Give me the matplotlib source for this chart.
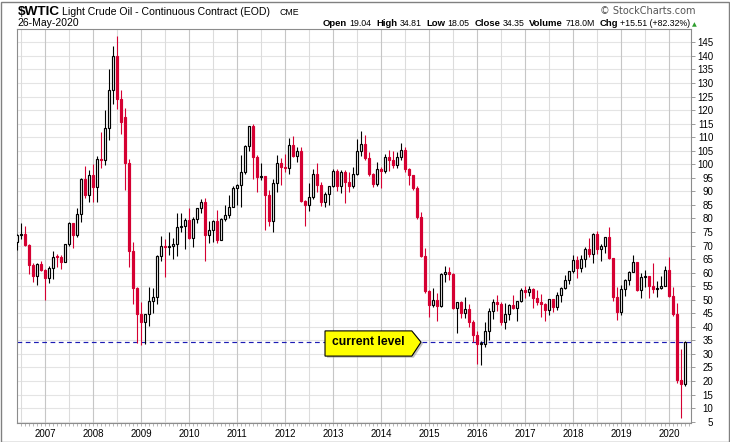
import matplotlib
matplotlib.use('Agg')
import matplotlib.pyplot as plt
import numpy as np
import pandas as pd
from matplotlib.patches import Rectangle, Polygon

plt.rcParams['font.family'] = ['Liberation Sans', 'DejaVu Sans']

# monthly candles, Jun 2006 .. May 2020
months = pd.period_range('2006-06', '2020-05', freq='M')

opens = [
    71.29, 73.93, 74.40, 70.26, 62.91, 58.73, 63.13,                                  # 2006
    61.05, 58.14, 61.79, 65.87, 65.71, 64.01, 70.68, 78.21, 74.04, 81.66, 94.53, 88.71,  # 2007
    95.98, 91.75, 101.84, 101.58, 113.46, 127.35, 140.00, 124.08, 117.50, 100.64, 67.81, 54.43,  # 2008
    44.60, 41.68, 44.76, 49.66, 51.12, 66.31, 69.89, 69.45, 69.96, 70.61, 77.00, 77.28,  # 2009
    79.36, 72.89, 79.66, 83.76, 86.15, 73.97, 75.63, 78.95, 71.92, 79.97, 81.43, 84.11,  # 2010
    91.38, 92.19, 96.97, 106.72, 113.93, 102.70, 95.42, 95.70, 88.81, 79.20, 93.19, 100.36,  # 2011
    98.83, 98.48, 107.07, 103.02, 104.87, 86.53, 84.96, 88.06, 96.47, 92.19, 86.24, 88.91,  # 2012
    91.82, 97.49, 92.05, 97.23, 93.46, 91.97, 96.56, 105.03, 107.65, 102.33, 96.38, 92.72,  # 2013
    98.42, 97.49, 102.59, 101.58, 99.74, 102.71, 105.37, 98.17, 95.96, 91.16, 80.54, 66.15,  # 2014
    53.27, 48.24, 49.76, 47.60, 59.63, 60.30, 59.47, 47.12, 49.20, 45.09, 46.59, 41.65,  # 2015
    37.04, 33.62, 33.75, 38.34, 45.92, 49.10, 48.33, 41.60, 44.70, 48.24, 46.86, 49.44,  # 2016
    53.72, 52.81, 54.01, 50.60, 49.33, 48.32, 46.04, 50.17, 47.23, 51.67, 54.38, 57.40,  # 2017
    60.42, 64.73, 61.64, 64.94, 68.57, 67.04, 74.15, 68.76, 69.80, 73.25, 65.31, 50.93,  # 2018
    45.41, 53.79, 57.22, 60.14, 63.91, 53.50, 58.47, 58.58, 55.10, 54.07, 54.18, 55.17,  # 2019
    61.06, 51.56, 44.76, 20.48, 19.04,                                                # 2020
]
highs = [
    74.15, 78.40, 77.03, 70.50, 63.70, 63.40, 64.45,
    61.50, 62.35, 68.09, 66.75, 66.60, 70.70, 78.77, 78.33, 83.90, 94.74, 99.29, 97.79,
    100.09, 103.05, 111.80, 119.93, 135.09, 143.67, 147.27, 127.50, 120.90, 102.00, 71.18, 54.80,
    49.31, 43.88, 54.66, 54.15, 66.64, 73.38, 72.28, 75.00, 72.70, 82.00, 82.00, 80.00,
    83.95, 80.51, 83.85, 87.15, 87.60, 79.20, 79.30, 82.95, 80.08, 84.93, 88.63, 92.06,
    92.58, 103.41, 106.95, 113.98, 114.83, 103.45, 100.62, 95.76, 90.52, 94.65, 103.37, 102.44,
    103.74, 109.77, 110.55, 106.24, 106.43, 86.90, 92.94, 98.29, 100.42, 93.61, 89.91, 91.90,
    98.24, 98.24, 97.80, 97.91, 97.05, 99.07, 109.32, 112.24, 110.68, 104.44, 96.93, 100.75,
    98.80, 103.82, 105.22, 104.99, 104.44, 107.68, 106.38, 98.72, 96.20, 91.96, 82.27, 69.10,
    53.59, 54.24, 52.48, 59.90, 62.58, 61.94, 59.71, 49.32, 49.50, 50.92, 48.36, 42.59,
    38.39, 34.69, 41.90, 46.78, 50.21, 51.67, 49.06, 48.75, 48.35, 51.93, 49.50, 54.51,
    55.24, 54.94, 54.45, 53.76, 52.00, 48.81, 50.43, 50.22, 52.86, 54.86, 59.05, 60.51,
    66.66, 66.30, 66.55, 69.56, 72.90, 74.46, 75.27, 70.42, 73.33, 76.90, 65.43, 54.55,
    55.37, 57.81, 60.73, 66.60, 64.00, 59.93, 60.94, 58.76, 63.38, 56.90, 58.73, 62.34,
    65.65, 54.66, 48.66, 31.90, 34.81,
]
lows = [
    68.45, 72.27, 69.77, 59.52, 56.55, 55.35, 60.45,
    49.90, 56.25, 57.57, 61.96, 61.50, 63.80, 69.90, 69.00, 73.10, 78.65, 87.51, 86.10,
    86.11, 86.10, 98.65, 99.55, 109.05, 122.23, 120.42, 111.34, 90.51, 62.01, 48.25, 33.90,
    33.20, 33.55, 40.25, 45.04, 48.34, 64.35, 58.32, 66.61, 65.05, 66.02, 75.04, 68.59,
    72.43, 69.50, 78.50, 82.11, 64.24, 70.76, 71.31, 70.76, 72.63, 79.12, 80.05, 84.38,
    84.80, 84.07, 96.50, 105.00, 94.63, 89.68, 94.08, 75.71, 77.11, 74.95, 89.90, 92.52,
    97.09, 96.35, 102.51, 100.68, 86.15, 77.28, 82.81, 87.26, 89.68, 84.72, 84.05, 85.07,
    91.78, 90.19, 89.33, 85.61, 89.66, 91.19, 95.91, 103.17, 101.63, 95.70, 91.77, 92.09,
    91.24, 96.62, 97.37, 98.65, 98.58, 101.62, 97.23, 92.50, 90.43, 79.78, 65.69, 52.44,
    43.58, 47.36, 42.03, 47.22, 56.51, 57.46, 46.68, 37.75, 43.21, 43.22, 39.93, 34.53,
    26.19, 26.05, 32.52, 35.24, 43.03, 45.83, 40.57, 39.19, 42.52, 46.63, 42.20, 49.30,
    50.71, 51.22, 47.09, 48.18, 43.76, 42.05, 44.46, 45.58, 46.35, 49.10, 54.00, 55.82,
    59.95, 58.07, 60.15, 62.12, 65.80, 63.59, 67.03, 64.43, 67.23, 64.86, 49.41, 42.36,
    44.35, 51.23, 55.33, 60.10, 53.05, 50.60, 54.84, 50.52, 52.54, 50.99, 54.00, 55.03,
    51.09, 44.00, 19.27, 6.50, 18.05,
]
closes = [
    73.93, 74.40, 70.26, 62.91, 58.73, 63.13, 61.05,
    58.14, 61.79, 65.87, 65.71, 64.01, 70.68, 78.21, 74.04, 81.66, 94.53, 88.71, 95.98,
    91.75, 101.84, 101.58, 113.46, 127.35, 140.00, 124.08, 115.46, 100.64, 67.81, 54.43, 44.60,
    41.68, 44.76, 49.66, 51.12, 66.31, 69.89, 69.45, 69.96, 70.61, 77.00, 77.28, 79.36,
    72.89, 79.66, 83.76, 86.15, 73.97, 75.63, 78.95, 71.92, 79.97, 81.43, 84.11, 91.38,
    92.19, 96.97, 106.72, 113.93, 102.70, 95.42, 95.70, 88.81, 79.20, 93.19, 100.36, 98.83,
    98.48, 107.07, 103.02, 104.87, 86.53, 84.96, 88.06, 96.47, 92.19, 86.24, 88.91, 91.82,
    97.49, 92.05, 97.23, 93.46, 91.97, 96.56, 105.03, 107.65, 102.33, 96.38, 92.72, 98.42,
    97.49, 102.59, 101.58, 99.74, 102.71, 105.37, 98.17, 95.96, 91.16, 80.54, 66.15, 53.27,
    48.24, 49.76, 47.60, 59.63, 60.30, 59.47, 47.12, 49.20, 45.09, 46.59, 41.65, 37.04,
    33.62, 33.75, 38.34, 45.92, 49.10, 48.33, 41.60, 44.70, 48.24, 46.86, 49.44, 53.72,
    52.81, 54.01, 50.60, 49.33, 48.32, 46.04, 50.17, 47.23, 51.67, 54.38, 57.40, 60.42,
    64.73, 61.64, 64.94, 68.57, 67.04, 74.15, 68.76, 69.80, 73.25, 65.31, 50.93, 45.41,
    53.79, 57.22, 60.14, 63.91, 53.50, 58.47, 58.58, 55.10, 54.07, 54.18, 55.17, 61.06,
    51.56, 44.76, 20.48, 18.84, 34.35,
]

years = list(range(2007, 2021))
price_ticks = list(range(5, 150, 5))

quote_parts = [('Open', '19.04'), ('High', '34.81'), ('Low', '18.05'), ('Close', '34.35'),
               ('Volume', '718.0M'), ('Chg', '+15.51 (+82.32%)')]

RED = '#d50032'
W, H = 730, 442

fig = plt.figure(figsize=(W / 100, H / 100), dpi=100)
ax = fig.add_axes([17.3 / W, 1 - 423.3 / H, (691 - 17.3) / W, (423.3 - 29.3) / H])

x = np.array([(p.year - 2006) * 12 + p.month - 1 for p in months])

# grid
for v in price_ticks:
    ax.axhline(v, color='#e4e4e4', lw=0.8, zorder=0)
for yr in range(2006, 2021):
    ax.axvline((yr - 2006) * 12, color='#c6c6c6', lw=0.8, zorder=0)
    ax.axvline((yr - 2006) * 12 + 6, color='#dcdcdc', lw=0.8, zorder=0)

# candles
for xi, o, h, l, c in zip(x, opens, highs, lows, closes):
    up = c >= o
    col = 'black' if up else RED
    ax.vlines(xi, l, h, color=col, lw=0.8, zorder=3)
    ax.add_patch(Rectangle((xi - 0.37, min(o, c)), 0.74, max(abs(c - o), 0.3),
                           facecolor='white' if up else RED, edgecolor=col,
                           lw=0.85, zorder=4))

# current level line + callout
cur = closes[-1]
ax.axhline(cur, color='#1c1cb4', lw=0.85, ls=(0, (4, 3)), zorder=2.5)
box = [(82.0, 38.5), (103.7, 38.5), (106.0, cur), (103.7, 29.2), (82.0, 29.2)]
shadow = [(px + 0.5, py - 0.6) for px, py in box]
ax.add_patch(Polygon(shadow, closed=True, facecolor='#9a9a9a', edgecolor='none',
                     alpha=0.6, zorder=6))
ax.add_patch(Polygon(box, closed=True, facecolor='#ffff00', edgecolor='black',
                     lw=0.8, zorder=7))
ax.text(92.8, cur, 'current level', fontsize=8.7, fontweight='bold',
        ha='center', va='center', zorder=8)

ax.set_xlim(5.07, 173.5)
ax.set_ylim(4.4, 149.8)

ax.yaxis.tick_right()
ax.set_yticks(price_ticks)
ax.set_yticklabels([str(v) for v in price_ticks])
ax.tick_params(axis='y', length=3, width=0.6, color='#8c8c8c', labelsize=7, pad=13)
for lab in ax.get_yticklabels():
    lab.set_horizontalalignment('right')

ax.set_xticks([(yr - 2006) * 12 for yr in years])
ax.set_xticklabels([str(yr) for yr in years])
ax.set_xticks(np.arange(6, 174), minor=True)
ax.tick_params(axis='x', which='both', length=2, width=0.5, color='#9a9a9a',
               labelsize=7, pad=2)

for s in ax.spines.values():
    s.set_color('#8c8c8c')
    s.set_linewidth(0.8)

# header
def fy(py):
    return 1 - py / H

fig.text(17.3 / W, fy(15), '$WTIC', fontsize=9.7, fontweight='bold', va='baseline')
fig.text(61.7 / W, fy(15), 'Light Crude Oil - Continuous Contract (EOD)', fontsize=7.6,
         va='baseline')
fig.text(279 / W, fy(15), 'CME', fontsize=6.3, va='baseline')
fig.text(696 / W, fy(14), '\u00a9 StockCharts.com', fontsize=7, color='#555555',
         ha='right', va='baseline', family='DejaVu Sans')
fig.text(17.3 / W, fy(26.5), '26-May-2020', fontsize=7.5, va='baseline')

r = fig.canvas.get_renderer()
px = 697
t = fig.text(px / W, fy(26), '\u25b2', fontsize=4.5, color='#2e9e2e', ha='right',
             va='baseline', family='DejaVu Sans')
px -= t.get_window_extent(r).width + 2
for label, val in reversed(quote_parts):
    t = fig.text(px / W, fy(26.5), val, fontsize=6.3, ha='right', va='baseline')
    px -= t.get_window_extent(r).width + 2.5
    t = fig.text(px / W, fy(26.5), label, fontsize=6.8, fontweight='bold', ha='right',
                 va='baseline')
    px -= t.get_window_extent(r).width + 4.5

# outer frame
fig.patches.append(Rectangle((0.5 / W, 0.5 / H), (W - 2) / W, (H - 2) / H,
                             transform=fig.transFigure, fill=False,
                             edgecolor='#808080', lw=1))

fig.savefig('out.png', dpi=100)
